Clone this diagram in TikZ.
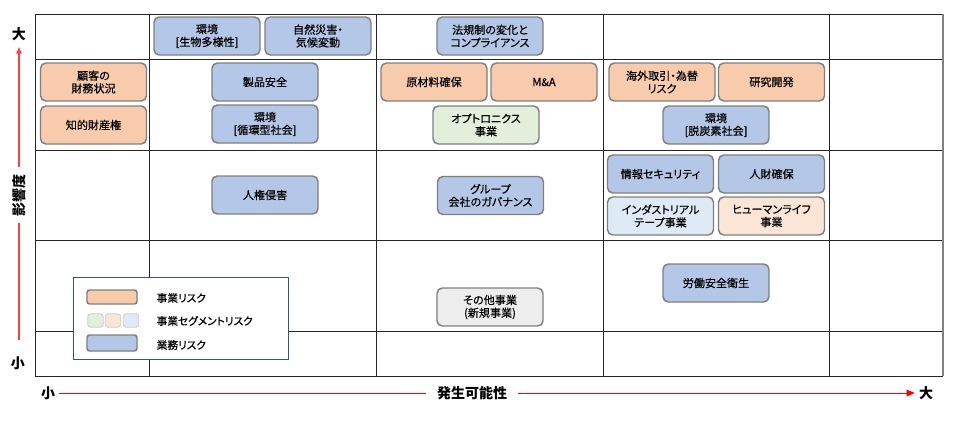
\documentclass[tikz,border=0pt]{standalone}
\usepackage{fontspec}
\setmainfont{Noto Sans CJK JP}[RawFeature=+palt]
\newfontfamily\boxfont{Noto Sans CJK JP}[RawFeature=+palt, FakeBold=0.5]
\usepackage{tikz}
\usetikzlibrary{arrows.meta}

\definecolor{gyomu}{HTML}{B4C7E7}
\definecolor{jigyo}{HTML}{F8CBAD}
\definecolor{segg}{HTML}{E2EFDA}
\definecolor{segb}{HTML}{DEEBF7}
\definecolor{sego}{HTML}{FBE5D6}
\definecolor{sonota}{HTML}{EDEDED}
\definecolor{boxline}{HTML}{7F7F7F}
\definecolor{legline}{HTML}{2F5597}
\definecolor{yaxis}{HTML}{FF4040}

\begin{document}
\begin{tikzpicture}[x=0.75pt, y=-0.75pt,
  gridline/.style={line width=0.7pt, black!85},
  risk/.style={draw=boxline, line width=1.1pt, rounded corners=4pt,
    minimum width=79.5pt, minimum height=28.5pt, inner sep=1pt,
    align=center, font=\boxfont\fontsize{8.3}{9.6}\selectfont},
  axislab/.style={font=\fontsize{10.5}{12}\selectfont\bfseries, inner sep=3pt},
  axisline/.style={red, line width=0.7pt}]
  \useasboundingbox (0,0) rectangle (960,440);

  % grid
  \foreach \x in {35,149,376,603,829}
    \draw[gridline] (\x,14) -- (\x,376);
  \foreach \y in {14,59,150,240,331,376}
    \draw[gridline] (35,\y) -- (943,\y);
  \draw[line width=1.3pt, black!50] (943,14) -- (943,376);

  % axes
  \node[axislab] (ybig)   at (19,34)  {大};
  \node[axislab] (ysmall) at (18,363) {小};
  \node[axislab, rotate=90, inner sep=5pt] (ylab) at (19,195) {影響度};
  \coordinate (ytop) at (19,47);
  \coordinate (ybot) at (19,340);
  \draw[yaxis, line width=1.1pt, -{Triangle[length=5pt,width=4pt]}] (ylab) -- (ytop);
  \draw[yaxis, line width=1.1pt] (ylab) -- (ybot);

  \node[axislab] (xsmall) at (48,393)  {小};
  \node[axislab] (xbig)   at (926,393) {大};
  \node[axislab, inner xsep=8pt] (xlab) at (472,393) {発生可能性};
  \draw[axisline] (xsmall) -- (xlab);
  \draw[axisline, -{Triangle[length=6pt,width=5pt]}] (xlab) -- (xbig);

  % risks
  \node[risk, fill=gyomu] (env1)  at (207,36)  {環境\\{[}生物多様性{]}};
  \node[risk, fill=gyomu] (nat)   at (318,36)  {自然災害・\\気候変動};
  \node[risk, fill=gyomu] (law)   at (490,36)  {法規制の変化と\\コンプライアンス};
  \node[risk, fill=jigyo] (cust)  at (93.5,82) {顧客の\\財務状況};
  \node[risk, fill=jigyo] (ip)    at (93.5,125) {知的財産権};
  \node[risk, fill=gyomu] (prod)  at (265,82)  {製品安全};
  \node[risk, fill=gyomu] (env2)  at (265,124) {環境\\{[}循環型社会{]}};
  \node[risk, fill=jigyo] (mat)   at (434,82)  {原材料確保};
  \node[risk, fill=jigyo] (mna)   at (544,82)  {M\&A};
  \node[risk, fill=segg]  (opto)  at (486,125) {オプトロニクス\\事業};
  \node[risk, fill=jigyo] (fx)    at (662,82)  {海外取引・為替\\リスク};
  \node[risk, fill=jigyo] (rnd)   at (771.5,82) {研究開発};
  \node[risk, fill=gyomu] (env3)  at (716,125) {環境\\{[}脱炭素社会{]}};
  \node[risk, fill=gyomu] (hr)    at (265,195) {人権侵害};
  \node[risk, fill=gyomu] (gov)   at (490.5,195.5) {グループ\\会社のガバナンス};
  \node[risk, fill=gyomu] (sec)   at (660.5,174) {情報セキュリティ};
  \node[risk, fill=gyomu] (talent) at (771.5,174) {人財確保};
  \node[risk, fill=segb]  (tape)  at (660.5,216) {インダストリアル\\テープ事業};
  \node[risk, fill=sego]  (life)  at (771.5,216) {ヒューマンライフ\\事業};
  \node[risk, fill=sonota] (other) at (490,307) {その他事業\\(新規事業)};
  \node[risk, fill=gyomu] (labor) at (716,283) {労働安全衛生};

  % legend
  \draw[legline, line width=0.7pt, fill=white] (73,277) rectangle (288,359);
  \node[draw=boxline, line width=1.1pt, rounded corners=2pt, fill=jigyo,
    minimum width=37.5pt, minimum height=10.5pt, inner sep=0pt] (legA) at (112,297) {};
  \foreach \c/\x in {segg/95.5, sego/113, segb/131}
    \node[draw=black!20, line width=0.6pt, rounded corners=2pt, fill=\c,
      minimum width=11.5pt, minimum height=10pt, inner sep=0pt] at (\x,320.5) {};
  \node[draw=boxline, line width=1.1pt, rounded corners=2pt, fill=gyomu,
    minimum width=37.5pt, minimum height=12pt, inner sep=0pt] (legC) at (112,343) {};
  \node[anchor=west, font=\boxfont\fontsize{8}{9}\selectfont] (txtA) at (152,298) {事業リスク};
  \node[anchor=west, font=\boxfont\fontsize{8}{9}\selectfont] (txtB) at (152,321) {事業セグメントリスク};
  \node[anchor=west, font=\boxfont\fontsize{8}{9}\selectfont] (txtC) at (152,345) {業務リスク};
\end{tikzpicture}
\end{document}
